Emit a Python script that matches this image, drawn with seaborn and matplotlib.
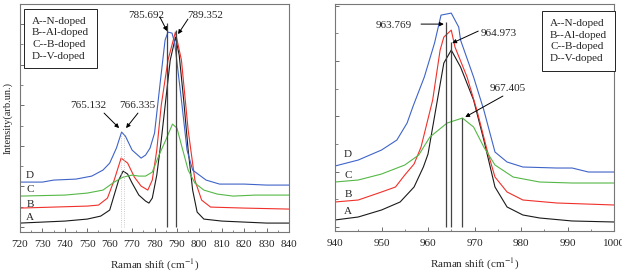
import pandas as pd
import numpy as np
import matplotlib
matplotlib.use('Agg')
import matplotlib.pyplot as plt
import seaborn as sns

sns.set_style('ticks')
plt.rcParams['font.family'] = ['Liberation Serif', 'DejaVu Serif']
plt.rcParams['mathtext.fontset'] = 'stix'

COLORS = {'A': '#1a1a1a', 'B': '#f0302a', 'C': '#55b847', 'D': '#3f64c8'}
LEGEND_TEXT = 'A--N-doped\nB--Al-doped\nC--B-doped\nD--V-doped'

# ---- left panel: 720-840 cm-1 ----
L_A_X = [720, 730, 740, 750, 756, 760, 762, 764, 766, 768, 770, 773, 776, 777.5, 779, 781, 783, 785,
         787, 789.35, 791, 793, 795, 797, 799, 802, 810, 820, 830, 840]
L_A_Y = [9, 10, 11, 13, 16, 22, 37, 52, 61, 58, 49, 37, 31, 29, 34, 57, 92, 132,
         172, 195, 177, 132, 82, 42, 20, 13, 11, 10, 9, 9]
L_B_X = [720, 735, 750, 755, 759, 762, 765.1, 768, 771, 774, 777, 779, 781, 783, 786, 789.3, 792,
         795, 798, 801, 805, 820, 840]
L_B_Y = [24, 25, 26, 27, 34, 52, 74, 69, 55, 46, 42, 52, 82, 127, 172, 200, 172,
         102, 52, 32, 25, 24, 23]
L_C_X = [720, 740, 750, 757, 762, 766, 770, 773, 776, 779, 782, 785, 788, 790, 792, 795, 798, 802,
         808, 815, 825, 840]
L_C_Y = [36, 37, 39, 42, 50, 55, 57, 56, 56, 60, 77, 92, 108, 104, 87, 62, 49, 42,
         38, 36, 37, 37]
L_D_X = [720, 730, 735, 745, 752, 757, 760, 763, 765.3, 767, 770, 774, 776, 778, 780, 782.5, 784.7,
         786, 787.8, 789, 792, 794.5, 797, 803, 809, 820, 830, 840]
L_D_Y = [50, 50, 52, 53, 56, 62, 69, 84, 100, 96, 82, 74, 77, 84, 99, 149, 192,
         200, 199, 189, 132, 82, 62, 52, 48, 48, 47, 47]

L_PEAKS = [785.692, 789.352]
L_PEAK_TOP = [209, 202]
L_SHOULDERS = [765.132, 766.335]
L_SHOULDER_TOP = [100, 100]

# ---- right panel: 940-1000 cm-1 ----
R_A_X = [940, 945, 950, 954, 957, 959, 960, 962.5, 963.4, 965, 967, 969.8, 972, 974.4, 977, 980.4,
         984, 991, 1000]
R_A_Y = [11, 14, 21, 29, 44, 64, 77, 144, 168, 181, 164, 131, 91, 44, 24, 16, 13, 10, 9]
R_B_X = [940, 945, 950, 953, 955, 957, 958.5, 961, 962.6, 963.4, 965, 965.8, 968.4, 970.5, 972.7,
         974.4, 977, 980.4, 987.7, 1000]
R_B_Y = [29, 31, 39, 44, 56, 67, 84, 131, 181, 194, 201, 184, 154, 121, 81, 54, 39, 31, 28, 26]
R_C_X = [940, 945, 950, 955, 958, 960.4, 964.1, 967.4, 969.8, 972, 974.4, 978.3, 984, 991, 1000]
R_C_Y = [49, 51, 57, 66, 76, 94, 108, 113, 104, 84, 66, 54, 49, 48, 48]
R_D_X = [940, 945, 950, 953.3, 955.5, 956.8, 959.2, 961.4, 962.8, 965, 966.6, 967, 969.8, 972, 974.4,
         977, 980.4, 987.7, 991, 994.5, 1000]
R_D_Y = [65, 71, 81, 91, 108, 125, 154, 188, 216, 218, 204, 191, 154, 121, 79, 69, 64, 63, 63, 59, 59]

R_PEAKS = [963.769, 964.973, 967.405]
R_PEAK_TOP = [209, 189, 113]


def make_frame(curves):
    rows = []
    for name, xs, ys in curves:
        rows.append(pd.DataFrame({'shift': xs, 'intensity': ys, 'sample': name}))
    return pd.concat(rows, ignore_index=True)


left_df = make_frame([('A', L_A_X, L_A_Y), ('B', L_B_X, L_B_Y), ('C', L_C_X, L_C_Y), ('D', L_D_X, L_D_Y)])
right_df = make_frame([('A', R_A_X, R_A_Y), ('B', R_B_X, R_B_Y), ('C', R_C_X, R_C_Y), ('D', R_D_X, R_D_Y)])

fig = plt.figure(figsize=(6.22, 2.74), dpi=100)
ax1 = fig.add_axes([0.0322, 0.153, 0.4325, 0.832])
ax2 = fig.add_axes([0.5386, 0.157, 0.4486, 0.828])

FS = 8
arrow = dict(arrowstyle='-|>', color='black', lw=0.7, mutation_scale=6, shrinkA=0, shrinkB=0)

for ax, df in [(ax1, left_df), (ax2, right_df)]:
    sns.lineplot(data=df, x='shift', y='intensity', hue='sample', palette=COLORS,
                 sort=False, estimator=None, lw=0.8, legend=False, ax=ax)
    ax.set_ylabel('')
    ax.set_xlabel(r'Raman shift (cm$^{-1}$)', fontsize=FS, labelpad=6)
    for s in ax.spines.values():
        s.set_color('#777777')
        s.set_linewidth(0.8)
    ax.tick_params(axis='both', direction='in', length=3, width=0.6, color='#555555',
                   labelsize=FS, top=False, right=False, pad=6)
    ax.tick_params(axis='both', which='minor', direction='in', length=1.8, width=0.5,
                   color='#555555', top=False, right=False)
    ax.tick_params(axis='y', labelleft=False)

# left panel setup
ax1.set_xlim(720, 840)
ax1.set_ylim(0, 228)
ax1.set_xticks(np.arange(720, 841, 10))
ax1.set_xticks(np.arange(725, 840, 10), minor=True)
ax1.set_yticks(np.arange(5, 228, 40.6))
ax1.set_yticks(np.arange(25.3, 228, 40.6), minor=True)
ax1.set_ylabel('Intensity(arb.un.)', fontsize=FS - 0.5, labelpad=2)

ax1.vlines(L_PEAKS, 5, L_PEAK_TOP, color='#444444', lw=0.9)
ax1.vlines(L_SHOULDERS, 5, L_SHOULDER_TOP, color='#bbbbbb', lw=0.6, linestyles=':')

for txt, tpos, tail, head in [('785.692', (776.2, 217), (782.4, 215), (785.6, 201)),
                              ('789.352', (802.5, 217), (794.9, 213), (790.5, 198)),
                              ('765.132', (750.3, 127), (757.5, 119), (764.2, 104)),
                              ('766.335', (772.2, 127), (772.6, 119), (767.3, 104))]:
    ax1.text(*tpos, txt, fontsize=FS, ha='center', va='center')
    ax1.annotate('', xy=head, xytext=tail, arrowprops=arrow)

for lab, yv in zip(['D', 'C', 'B', 'A'], [57, 43, 28, 15]):
    ax1.text(724.5, yv, lab, fontsize=FS, ha='center', va='center')

ax1.text(0.0446, 0.945, LEGEND_TEXT, transform=ax1.transAxes, fontsize=FS, ha='left', va='top',
         linespacing=1.38, bbox=dict(boxstyle='square,pad=0.7', fc='white', ec='#222222', lw=0.7))

# right panel setup
ax2.set_xlim(940, 1000)
ax2.set_ylim(0, 227)
ax2.set_xticks(np.arange(940, 1001, 10))
ax2.set_xticks(np.arange(945, 1000, 10), minor=True)
ax2.set_yticks(np.arange(4, 227, 55.4))
ax2.set_yticks(np.arange(31.7, 227, 55.4), minor=True)

ax2.vlines(R_PEAKS, 4, R_PEAK_TOP, color='#444444', lw=0.9)

for txt, tpos, tail, head in [('963.769', (952.7, 206), (958.5, 207), (963.4, 207)),
                              ('964.973', (975.3, 198), (970.8, 200), (965.2, 188)),
                              ('967.405', (977.2, 143), (976.1, 135), (968.0, 114))]:
    ax2.text(*tpos, txt, fontsize=FS, ha='center', va='center')
    ax2.annotate('', xy=head, xytext=tail, arrowprops=arrow)

for lab, yv in zip(['D', 'C', 'B', 'A'], [77, 56, 37, 19]):
    ax2.text(942.8, yv, lab, fontsize=FS, ha='center', va='center')

ax2.text(0.771, 0.935, LEGEND_TEXT, transform=ax2.transAxes, fontsize=FS, ha='left', va='top',
         linespacing=1.38, bbox=dict(boxstyle='square,pad=0.7', fc='white', ec='#222222', lw=0.7))

fig.savefig('out.png', dpi=100)
